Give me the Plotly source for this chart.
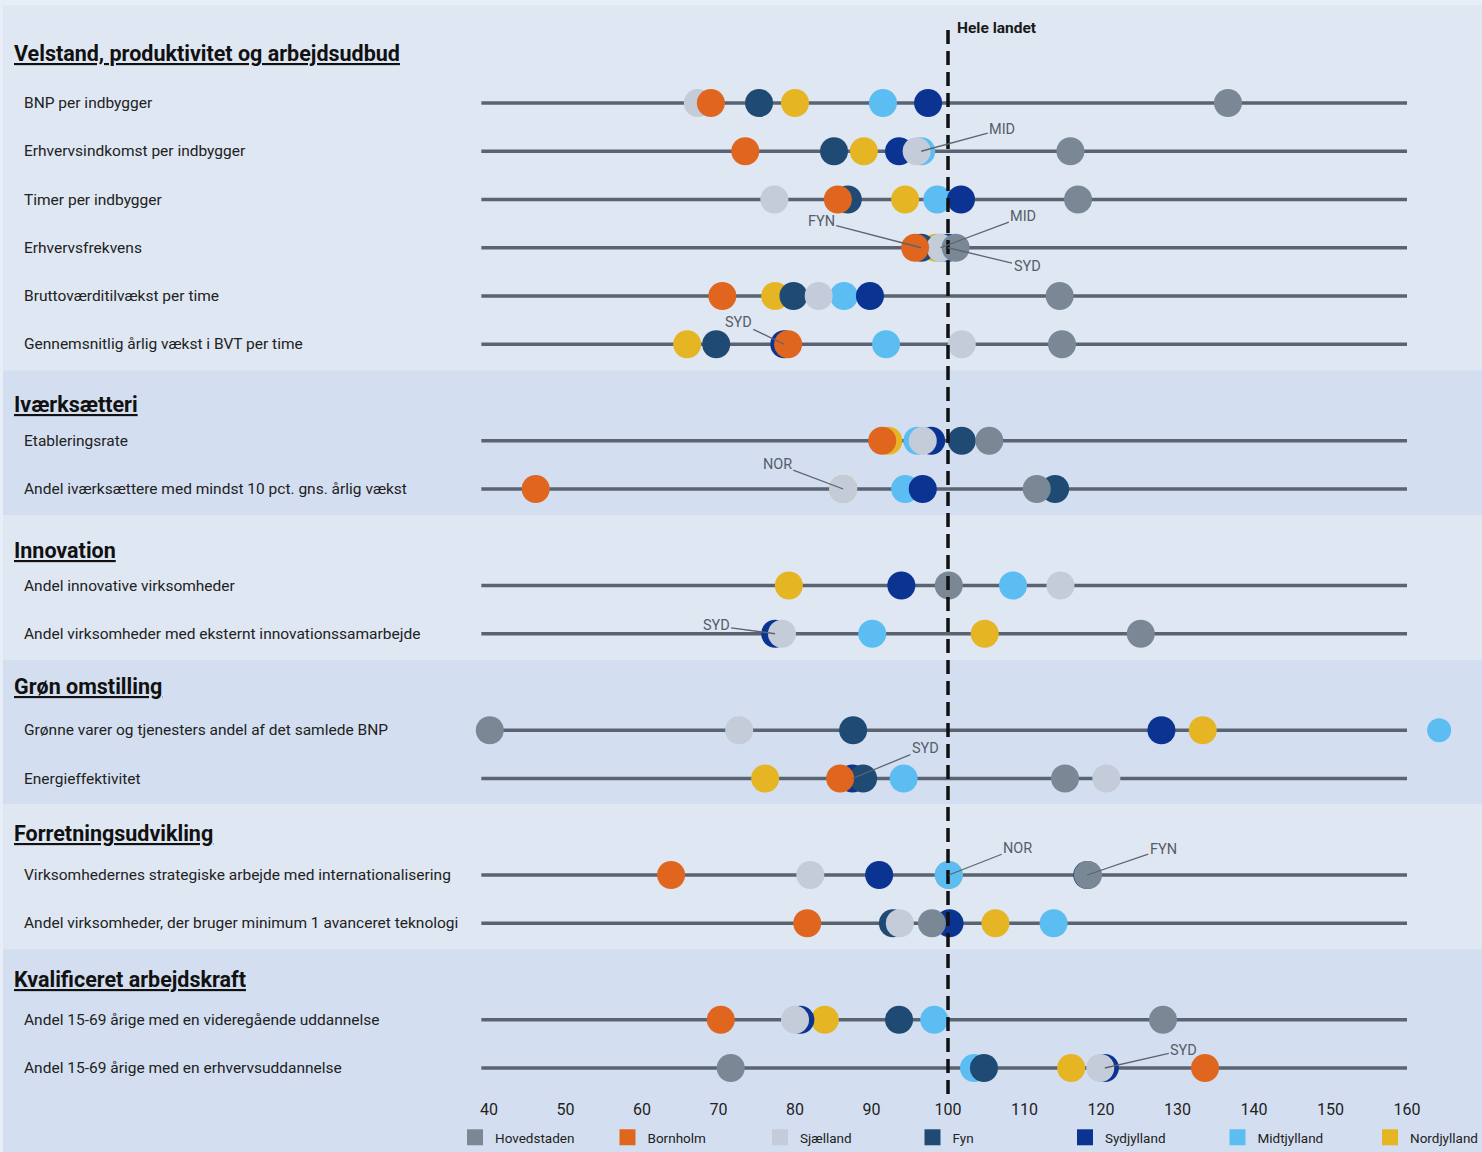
import plotly.graph_objects as go

# ---------------- data ----------------
SECTIONS = [
    "Velstand, produktivitet og arbejdsudbud",
    "Iværksætteri",
    "Innovation",
    "Grøn omstilling",
    "Forretningsudvikling",
    "Kvalificeret arbejdskraft",
]
SECTION_SIZES = [6, 2, 2, 2, 2, 2]

INDICATORS = [
    "BNP per indbygger",
    "Erhvervsindkomst per indbygger",
    "Timer per indbygger",
    "Erhvervsfrekvens",
    "Bruttoværditilvækst per time",
    "Gennemsnitlig årlig vækst i BVT per time",
    "Etableringsrate",
    "Andel iværksættere med mindst 10 pct. gns. årlig vækst",
    "Andel innovative virksomheder",
    "Andel virksomheder med eksternt innovationssamarbejde",
    "Grønne varer og tjenesters andel af det samlede BNP",
    "Energieffektivitet",
    "Virksomhedernes strategiske arbejde med internationalisering",
    "Andel virksomheder, der bruger minimum 1 avanceret teknologi",
    "Andel 15-69 årige med en videregående uddannelse",
    "Andel 15-69 årige med en erhvervsuddannelse",
]

REGIONS = ["Hovedstaden", "Bornholm", "Sjælland", "Fyn", "Sydjylland", "Midtjylland", "Nordjylland"]

hovedstaden = [136.6, 116.0, 117.0, 101.0, 114.6, 114.9, 105.4, 111.6, 100.1, 125.2, 40.1, 115.3, 118.3, 97.9, 128.1, 71.6]
bornholm    = [69.0, 73.5, 85.6, 95.7, 70.5, 79.1, 91.4, 46.1, None, None, None, 85.9, 63.8, 81.6, 70.3, 133.6]
sjaelland   = [67.3, 95.9, 77.3, 99.0, 83.1, 101.8, 96.7, 86.3, 114.7, 78.3, 72.7, 120.7, 82.0, 93.7, 80.0, 119.9]
fyn         = [75.3, 85.1, 86.9, 96.5, 79.8, 69.7, 101.8, 114.0, None, None, 87.6, 88.9, 118.2, 92.8, 93.6, 104.7]
sydjylland  = [97.4, 93.6, 101.7, 100.0, 89.8, 78.6, 97.8, 96.7, 93.9, 77.4, 127.9, 87.5, 91.0, 100.2, 80.7, 120.5]
midtjylland = [91.5, 96.5, 98.6, 99.0, 86.4, 91.9, 96.0, 94.4, 108.5, 90.1, 164.2, 94.2, 100.1, 113.8, 98.2, 103.4]
nordjylland = [80.0, 89.0, 94.4, 98.4, 77.4, 65.9, 92.2, 86.3, 79.2, 104.8, 133.3, 76.1, 100.1, 106.2, 83.9, 116.1]

VALUES = {
    "Hovedstaden": hovedstaden,
    "Bornholm": bornholm,
    "Sjælland": sjaelland,
    "Fyn": fyn,
    "Sydjylland": sydjylland,
    "Midtjylland": midtjylland,
    "Nordjylland": nordjylland,
}

REFERENCE_VALUE = 100
REFERENCE_LABEL = "Hele landet"
TICKS = [40, 50, 60, 70, 80, 90, 100, 110, 120, 130, 140, 150, 160]

# callouts: (indicator index, region, label)
CALLOUTS = [
    (1, "Midtjylland", "MID"),
    (3, "Fyn", "FYN"),
    (3, "Midtjylland", "MID"),
    (3, "Sydjylland", "SYD"),
    (5, "Sydjylland", "SYD"),
    (7, "Nordjylland", "NOR"),
    (9, "Sydjylland", "SYD"),
    (11, "Sydjylland", "SYD"),
    (12, "Nordjylland", "NOR"),
    (12, "Fyn", "FYN"),
    (15, "Sydjylland", "SYD"),
]

# ---------------- styling / layout ----------------
W, H = 1482, 1152
FONT = "Roboto"
COLORS = {
    "Hovedstaden": "#7a8896",
    "Bornholm": "#e0661f",
    "Sjælland": "#c3ccd8",
    "Fyn": "#1f4a74",
    "Sydjylland": "#0b3391",
    "Midtjylland": "#5bbdf2",
    "Nordjylland": "#e5b524",
}
BAND_COLORS = ["#dfe7f3", "#d3dff0"]
OUTER_BG = "#e8eef7"
ROW_LINE = "#5a6371"
CALLOUT_OFFSETS = [(81, -22), (-100, -26), (83, -31), (79, 19), (-46, -22), (-66, -25),
                   (-59, -8), (73, -30), (69, -27), (76, -26), (79, -18)]
HEADER_GAPS = [50, 36, 35, 44, 42, 40]

FIRST_ROW_Y = 103
ROW_STEP = 48.25
AXIS_Y = 1098
X0_PX, PX_PER_UNIT = 489, 7.65
x_range = [40 - X0_PX / PX_PER_UNIT, 40 + (W - X0_PX) / PX_PER_UNIT]
DOT_SIZE, OUT_OF_RANGE_DOT_SIZE = 28, 24

# compute row y-positions (pixels from top)
row_y = []
section_info = []
slot = 0
for s, n in enumerate(SECTION_SIZES):
    ys = [FIRST_ROW_Y + (slot + k) * ROW_STEP for k in range(n)]
    section_info.append((ys[0], ys[-1]))
    row_y.extend(ys)
    slot += n + 1

fig = go.Figure()

# background bands
band_edges = [5]
for s in range(len(SECTIONS) - 1):
    band_edges.append(section_info[s][1] + 26)
band_edges.append(H)
shapes = []
for s in range(len(SECTIONS)):
    shapes.append(dict(type="rect", xref="paper", yref="y", x0=3 / W, x1=1,
                       y0=band_edges[s], y1=band_edges[s + 1],
                       fillcolor=BAND_COLORS[s % 2], line=dict(width=0), layer="below"))

# reference dashed line
shapes.append(dict(type="line", xref="x", yref="y", x0=REFERENCE_VALUE, x1=REFERENCE_VALUE,
                   y0=30, y1=1095, line=dict(color="#111111", width=3.5, dash="14px,7px"),
                   layer="above"))

# row lines
lx, ly = [], []
for y in row_y:
    lx += [39, TICKS[-1], None]
    ly += [y, y, None]
fig.add_trace(go.Scatter(x=lx, y=ly, mode="lines", line=dict(color=ROW_LINE, width=3.5),
                         hoverinfo="skip", showlegend=False))

# dots: drawn in reverse so Hovedstaden ends on top
for r in reversed(REGIONS):
    sizes = [OUT_OF_RANGE_DOT_SIZE if (v is not None and v > TICKS[-1]) else DOT_SIZE
             for v in VALUES[r]]
    fig.add_trace(go.Scatter(
        x=VALUES[r], y=row_y, mode="markers", name=r, showlegend=False,
        marker=dict(size=sizes, color=COLORS[r], opacity=1, line=dict(width=0)),
        hovertemplate=r + ": %{x}<extra></extra>"))

# legend entries (squares)
for r in REGIONS:
    fig.add_trace(go.Scatter(x=[None], y=[None], mode="markers", name=r,
                             marker=dict(symbol="square", size=16, color=COLORS[r], opacity=1)))

annotations = []
# section headers
for s, name in enumerate(SECTIONS):
    annotations.append(dict(xref="paper", yref="y", x=12 / W, y=section_info[s][0] - HEADER_GAPS[s],
                            text="<b><u>" + name + "</u></b>", showarrow=False, xanchor="left",
                            yanchor="middle", font=dict(family=FONT, size=21.5, color="#111111")))
# indicator labels
for name, y in zip(INDICATORS, row_y):
    annotations.append(dict(xref="paper", yref="y", x=22 / W, y=y, text=name, showarrow=False,
                            xanchor="left", yanchor="middle",
                            font=dict(family=FONT, size=15.5, color="#222222")))
# reference label
annotations.append(dict(xref="x", yref="y", x=REFERENCE_VALUE, y=28, text="<b>" + REFERENCE_LABEL + "</b>",
                        showarrow=False, xanchor="left", yanchor="middle", xshift=7,
                        font=dict(family=FONT, size=15.5, color="#1a1a1a")))
# callouts
for (i, r, lab), (ax, ay) in zip(CALLOUTS, CALLOUT_OFFSETS):
    annotations.append(dict(xref="x", yref="y", x=VALUES[r][i], y=row_y[i], text=lab,
                            showarrow=True, arrowhead=0, arrowwidth=1.3, arrowcolor="#5d6470",
                            ax=ax, ay=ay, standoff=0,
                            font=dict(family=FONT, size=14.5, color="#555d69")))

fig.update_layout(
    width=W, height=H, autosize=False,
    margin=dict(l=0, r=0, t=0, b=0, pad=0, autoexpand=False),
    paper_bgcolor=OUTER_BG, plot_bgcolor=OUTER_BG,
    shapes=shapes, annotations=annotations,
    font=dict(family=FONT, size=15, color="#222222"),
    xaxis=dict(range=x_range, tickvals=TICKS, ticktext=[str(t) for t in TICKS],
               showgrid=False, zeroline=False, showline=False, ticks="",
               anchor="free", position=(H - AXIS_Y) / H,
               tickfont=dict(family=FONT, size=16, color="#222222"), fixedrange=True),
    yaxis=dict(range=[H, 0], visible=False, showgrid=False, zeroline=False, fixedrange=True),
    showlegend=True,
    legend=dict(orientation="h", x=455 / W, xanchor="left", y=(H - 1122) / H, yanchor="top",
                bgcolor="rgba(0,0,0,0)", font=dict(family=FONT, size=13.5, color="#222222"),
                entrywidth=107.5, entrywidthmode="pixels", itemclick=False, itemdoubleclick=False),
)

fig.write_html("out.html", config={"displayModeBar": False},
               post_script="document.body.style.margin='0';document.body.style.background='" + OUTER_BG + "';")
